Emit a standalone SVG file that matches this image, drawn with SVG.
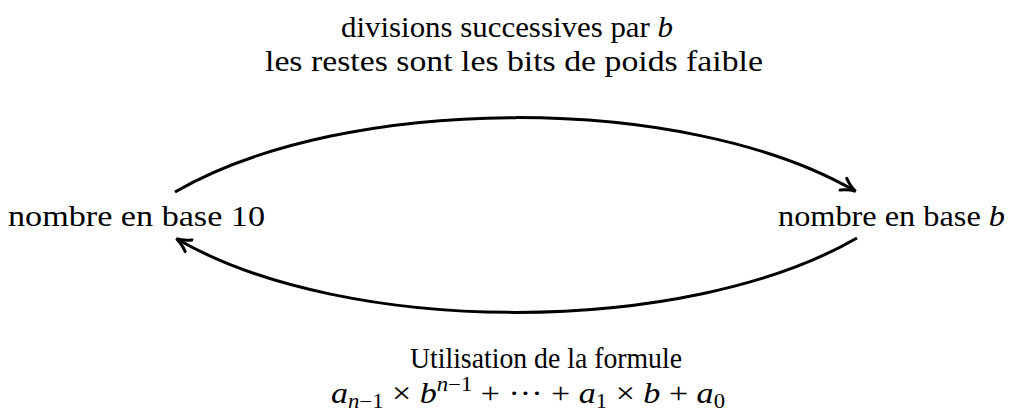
<svg xmlns="http://www.w3.org/2000/svg" width="1016" height="414" viewBox="0 0 1016 414">
<style>
text{font-family:"Liberation Serif","DejaVu Serif",serif;font-size:30px;fill:#000}
.i{font-style:italic}
.s{font-size:20px}
.c{fill:none;stroke:#000;stroke-width:3}
</style>
<defs>
<marker id="ah" viewBox="0 0 12 12" refX="10" refY="6" markerWidth="6" markerHeight="6" markerUnits="strokeWidth" orient="auto">
<path d="M1,1.5 Q6,5 10.5,6 Q6,7 1,10.5" fill="none" stroke="#000" stroke-width="2" stroke-linecap="round"/>
</marker>
</defs>
<rect width="1016" height="414" fill="#fff"/>
<g id="n1"><text x="8" y="226" textLength="257" lengthAdjust="spacingAndGlyphs">nombre en base 10</text></g>
<g id="n2"><text x="778" y="226" textLength="227" lengthAdjust="spacingAndGlyphs">nombre en base <tspan class="i">b</tspan></text></g>
<g id="connectors">
<path class="c" d="M175,192 C346,93 686,93 855,191" marker-end="url(#ah)"/>
<path class="c" d="M857,238 C686,337 346,337 177,239" marker-end="url(#ah)"/>
</g>
<g id="labels">
<text x="341" y="37" textLength="332" lengthAdjust="spacingAndGlyphs">divisions successives par <tspan class="i">b</tspan></text>
<text x="265" y="71" textLength="498" lengthAdjust="spacingAndGlyphs">les restes sont les bits de poids faible</text>
<text x="410" y="368" textLength="272" lengthAdjust="spacingAndGlyphs">Utilisation de la formule</text>
<text x="331" y="403" textLength="394" lengthAdjust="spacingAndGlyphs"><tspan class="i">a</tspan><tspan class="s" dy="5"><tspan class="i">n</tspan>−1</tspan><tspan dy="-5"> × </tspan><tspan class="i">b</tspan><tspan class="s" dy="-12"><tspan class="i">n</tspan>−1</tspan><tspan dy="12"> + ··· + </tspan><tspan class="i">a</tspan><tspan class="s" dy="5">1</tspan><tspan dy="-5"> × </tspan><tspan class="i">b</tspan><tspan> + </tspan><tspan class="i">a</tspan><tspan class="s" dy="5">0</tspan></text>
</g>
</svg>
